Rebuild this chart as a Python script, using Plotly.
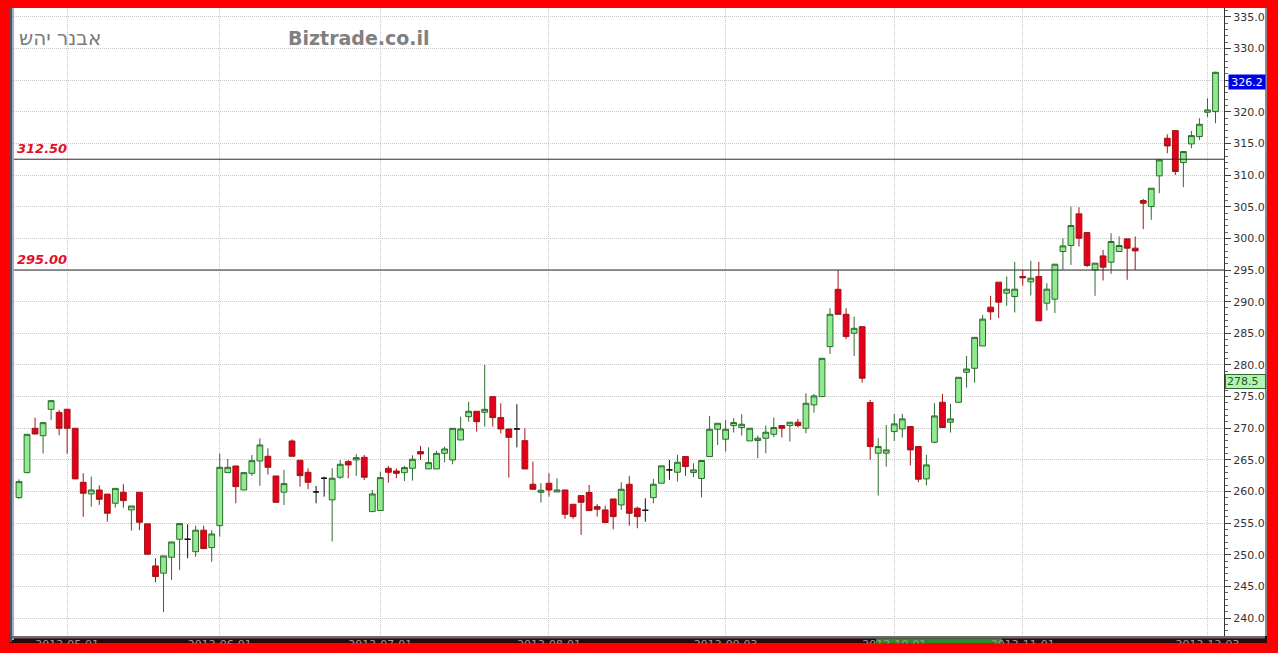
import plotly.graph_objects as go

# ---------------- data ----------------
open_ = [259.04, 262.99, 269.99, 268.83, 272.99, 272.5, 273.0, 270.0, 261.46, 259.62,
         260.25, 259.6, 258.15, 259.88, 257.1, 259.88, 254.9, 248.25, 247.1, 249.62,
         252.46, 252.46, 250.5, 253.9, 251.15, 254.62, 262.99, 264.04, 260.25, 262.88,
         264.83, 265.57, 262.46, 259.9, 267.99, 264.94, 263.04, 259.94, 262.1, 258.68,
         262.26, 264.73, 264.99, 265.41, 256.83, 257.0, 263.67, 263.25, 262.99, 263.67,
         266.31, 263.57, 263.57, 266.04, 264.99, 268.15, 271.83, 272.68, 272.52, 274.99,
         271.68, 269.89, 269.89, 268.04, 261.15, 259.89, 261.31, 259.94, 260.25, 257.99,
         259.36, 259.84, 257.62, 257.1, 258.83, 257.89, 261.15, 257.36, 257.04, 259.04,
         261.32, 263.42, 263.05, 265.53, 263.0, 262.06, 265.53, 269.84, 268.27, 270.42,
         270.11, 268.0, 268.06, 268.42, 269.05, 270.42, 270.42, 270.95, 270.0, 273.69,
         275.0, 282.9, 291.95, 288.0, 285.0, 286.05, 274.06, 266.06, 266.06, 269.47,
         269.9, 270.27, 267.11, 262.0, 267.79, 274.1, 270.95, 274.1, 278.84, 279.47,
         283.0, 289.13, 293.08, 291.34, 290.81, 293.97, 293.13, 293.97, 289.76, 290.39,
         297.92, 298.87, 303.87, 300.92, 295.02, 297.23, 296.23, 297.92, 299.92, 298.45,
         305.97, 305.02, 309.87, 315.81, 317.02, 311.97, 314.92, 316.08, 319.92, 320.02]
high = [261.94, 269.1, 271.67, 271.04, 274.46, 272.9, 273.0, 270.0, 262.9, 262.36,
        261.0, 259.6, 260.5, 261.15, 257.72, 259.88, 254.9, 249.46, 249.83, 252.04,
        254.94, 254.83, 254.6, 254.6, 253.9, 266.0, 265.15, 264.04, 262.99, 265.78,
        268.4, 266.83, 262.46, 263.41, 268.25, 264.94, 263.67, 260.88, 262.36, 263.68,
        264.99, 264.99, 265.9, 265.78, 260.25, 263.15, 264.04, 263.67, 264.04, 265.73,
        267.2, 266.99, 266.47, 267.1, 269.99, 271.83, 274.2, 272.68, 279.99, 274.99,
        273.94, 269.89, 273.8, 269.99, 264.73, 261.31, 262.88, 262.1, 260.25, 257.99,
        259.36, 261.04, 258.04, 257.78, 258.83, 261.47, 262.47, 257.62, 258.94, 261.99,
        264.06, 265.0, 265.8, 265.53, 264.47, 264.9, 271.95, 270.79, 271.32, 271.58,
        272.21, 270.0, 268.84, 270.42, 271.69, 270.42, 270.95, 271.48, 275.53, 275.42,
        281.05, 288.95, 295.0, 288.95, 287.63, 286.05, 274.48, 268.42, 270.53, 272.27,
        272.27, 270.27, 267.11, 265.79, 273.95, 275.42, 273.84, 278.05, 281.42, 284.36,
        287.9, 290.92, 293.08, 293.97, 296.29, 295.02, 296.45, 296.29, 292.92, 295.92,
        300.03, 305.02, 304.92, 300.92, 296.08, 298.18, 300.81, 300.29, 299.92, 300.29,
        306.23, 307.92, 312.39, 316.44, 317.02, 313.71, 316.97, 318.97, 322.13, 326.34]
low = [258.83, 262.9, 269.05, 266.04, 271.3, 268.9, 266.0, 262.0, 256.0, 257.6,
       257.9, 255.25, 257.46, 257.46, 253.83, 253.9, 250.1, 245.67, 240.94, 246.04,
       247.62, 249.46, 249.7, 250.99, 248.9, 252.9, 262.99, 258.15, 260.25, 262.46,
       260.9, 262.7, 258.3, 257.88, 265.57, 260.78, 260.36, 258.15, 259.2, 252.1,
       262.0, 262.1, 262.47, 261.83, 256.83, 257.0, 261.41, 262.1, 261.67, 261.73,
       264.99, 263.57, 263.57, 264.62, 264.31, 268.15, 271.04, 269.47, 270.26, 270.26,
       269.2, 262.2, 266.99, 263.57, 260.36, 258.25, 259.2, 259.94, 255.7, 255.68,
       253.15, 256.99, 256.04, 255.1, 254.04, 257.1, 254.62, 254.2, 255.25, 258.15,
       261.32, 261.85, 261.58, 262.48, 262.27, 259.1, 265.53, 267.37, 266.32, 269.32,
       268.84, 268.0, 265.27, 266.06, 268.6, 268.53, 267.9, 270.16, 269.21, 272.47,
       275.0, 281.74, 288.0, 284.06, 281.42, 277.21, 265.0, 259.37, 263.95, 268.0,
       268.53, 264.11, 261.48, 260.95, 267.63, 270.11, 269.32, 274.1, 276.42, 277.2,
       283.0, 287.13, 287.39, 289.34, 288.29, 292.55, 290.97, 286.97, 288.6, 288.18,
       295.02, 295.81, 298.71, 295.45, 290.92, 293.34, 294.39, 297.92, 293.45, 295.02,
       301.45, 302.92, 307.13, 313.44, 310.02, 308.08, 314.23, 315.55, 319.13, 318.18]
close = [261.57, 269.04, 269.09, 270.88, 274.36, 270.0, 270.0, 262.0, 259.73, 260.25,
         258.78, 256.57, 260.5, 258.57, 257.72, 255.15, 250.1, 246.57, 249.83, 252.04,
         254.94, 252.46, 253.9, 250.99, 253.3, 263.83, 263.83, 260.78, 262.99, 264.88,
         267.36, 263.83, 258.3, 261.25, 265.57, 262.52, 261.46, 259.94, 262.1, 262.1,
         264.31, 264.2, 265.36, 262.26, 259.62, 262.2, 263.04, 262.88, 263.78, 265.1,
         265.94, 264.57, 266.04, 266.73, 269.99, 269.89, 272.68, 271.04, 272.99, 271.68,
         269.89, 268.57, 269.89, 263.57, 260.36, 260.2, 260.25, 260.25, 256.41, 256.04,
         258.31, 256.99, 257.2, 255.1, 256.04, 260.36, 256.57, 256.04, 257.04, 261.15,
         264.06, 263.42, 264.63, 263.95, 263.42, 264.9, 269.84, 270.79, 269.84, 270.9,
         270.63, 270.0, 268.42, 269.37, 270.11, 270.0, 270.95, 270.42, 273.95, 275.11,
         281.05, 288.0, 288.0, 284.48, 285.79, 277.9, 267.11, 267.11, 266.58, 270.69,
         271.48, 266.58, 261.95, 264.21, 271.95, 270.11, 271.48, 278.05, 279.36, 284.36,
         287.24, 288.39, 289.92, 291.97, 291.97, 293.76, 293.71, 286.97, 291.97, 295.92,
         298.81, 302.02, 300.03, 295.71, 296.08, 295.45, 299.5, 298.87, 298.45, 298.02,
         305.55, 307.92, 312.39, 314.6, 310.55, 313.71, 316.23, 318.02, 320.29, 326.23]

month_idx = [6, 25, 45, 66, 88, 109, 125, 148]
month_labels = ["2012-05-01", "2012-06-01", "2012-07-01", "2012-08-01",
                "2012-09-03", "2012-10-01", "2012-11-01", "2012-12-03"]
levels = [312.5, 295.0]
level_labels = ["312.50", "295.00"]
last_price = 326.2
ma_price = 278.5
title_he = "אבנר יהש"
title_site = "Biztrade.co.il"

# ---------------- layout geometry ----------------
W, H = 1278, 653
ML, MR, MT, MB = 14, 54, 8, 17
PW = W - ML - MR
PH = H - MT - MB


def px_x(p):
    return (p - ML) / PW


def px_y(p):
    return (H - MB - p) / PH


idx = list(range(len(open_)))
doji = [abs(o - c) < 0.1 for o, c in zip(open_, close)]


def pick(arr, keep):
    return [v for v, k in zip(arr, keep) if k]


normal = [not d for d in doji]

fig = go.Figure()
fig.add_trace(go.Candlestick(
    x=pick(idx, normal), open=pick(open_, normal), high=pick(high, normal),
    low=pick(low, normal), close=pick(close, normal),
    increasing=dict(line=dict(color="#2f6b2f", width=1), fillcolor="#8eec8e"),
    decreasing=dict(line=dict(color="#a01515", width=1), fillcolor="#e4001a"),
    whiskerwidth=0, showlegend=False, name="price"))
fig.add_trace(go.Candlestick(
    x=pick(idx, doji), open=pick(open_, doji), high=pick(high, doji),
    low=pick(low, doji), close=pick(close, doji),
    increasing=dict(line=dict(color="#111111", width=1), fillcolor="#111111"),
    decreasing=dict(line=dict(color="#111111", width=1), fillcolor="#111111"),
    whiskerwidth=0, showlegend=False, name="doji"))

shapes = []
# white chart frame incl. right axis area
shapes.append(dict(type="rect", xref="paper", yref="paper", layer="below",
                   x0=px_x(12), x1=px_x(1266), y0=px_y(8), y1=px_y(638),
                   fillcolor="white", line=dict(width=0)))
# left frame strips
shapes.append(dict(type="rect", xref="paper", yref="paper", layer="above",
                   x0=px_x(9.5), x1=px_x(12), y0=px_y(8), y1=px_y(642),
                   fillcolor="#4a5560", line=dict(width=0)))
shapes.append(dict(type="rect", xref="paper", yref="paper", layer="above",
                   x0=px_x(12), x1=px_x(14), y0=px_y(8), y1=px_y(640),
                   fillcolor="#a4a8cc", line=dict(width=0)))
# right frame line
shapes.append(dict(type="rect", xref="paper", yref="paper", layer="below",
                   x0=px_x(1265), x1=px_x(1267), y0=px_y(8), y1=px_y(642),
                   fillcolor="#8a8a8a", line=dict(width=0)))
# bottom band
shapes.append(dict(type="rect", xref="paper", yref="paper", layer="below",
                   x0=px_x(9.5), x1=px_x(1267), y0=px_y(636), y1=px_y(643),
                   fillcolor="#2a0808", line=dict(width=0)))
shapes.append(dict(type="rect", xref="paper", yref="paper", layer="below",
                   x0=px_x(876), x1=px_x(1002), y0=px_y(638.5), y1=px_y(643),
                   fillcolor="#2c8a2c", line=dict(width=0)))
shapes.append(dict(type="rect", xref="paper", yref="paper", layer="above",
                   x0=px_x(12), x1=px_x(1265), y0=px_y(636), y1=px_y(638.5),
                   fillcolor="#6a6a6a", line=dict(width=0)))
# red bottom cover (clips axis labels)
shapes.append(dict(type="rect", xref="paper", yref="paper", layer="above",
                   x0=px_x(0), x1=px_x(W), y0=px_y(643.5), y1=px_y(H),
                   fillcolor="#ff0000", line=dict(width=0)))
# level lines
for lv in levels:
    shapes.append(dict(type="line", xref="paper", yref="y", layer="above",
                       x0=0, x1=1, y0=lv, y1=lv,
                       line=dict(color="#2a2a2a", width=1)))

annotations = []
for lv, lab in zip(levels, level_labels):
    annotations.append(dict(xref="paper", yref="y", x=px_x(15), y=lv,
                            xanchor="left", yanchor="bottom", yshift=1,
                            text=lab, showarrow=False,
                            font=dict(family="DejaVu Sans", size=13, color="#e3102a",
                                      weight="bold", style="italic")))
annotations.append(dict(xref="paper", yref="paper", x=px_x(17), y=px_y(38),
                        xanchor="left", yanchor="middle", text=title_he,
                        showarrow=False,
                        font=dict(family="DejaVu Sans", size=20, color="#7a7a7a")))
annotations.append(dict(xref="paper", yref="paper", x=px_x(286), y=px_y(38),
                        xanchor="left", yanchor="middle", text=title_site,
                        showarrow=False,
                        font=dict(family="DejaVu Sans", size=19, color="#808080",
                                  weight="bold")))
annotations.append(dict(xref="paper", yref="y", x=px_x(1228), y=last_price,
                        xanchor="left", yanchor="top", yshift=-1,
                        text=f"{last_price:.1f}",
                        showarrow=False, bgcolor="#0000e6", borderpad=1, width=34,
                        height=12, align="center",
                        font=dict(family="DejaVu Sans", size=11, color="white")))
annotations.append(dict(xref="paper", yref="y", x=px_x(1224.5), y=ma_price,
                        xanchor="left", yanchor="top", yshift=0,
                        text=f"{ma_price:.1f}",
                        showarrow=False, bgcolor="#b4f2b4", bordercolor="#2e6b2e",
                        borderwidth=1, borderpad=1, width=37, height=11, align="left",
                        font=dict(family="DejaVu Sans", size=11, color="#1e5a1e")))

fig.update_layout(
    width=W, height=H,
    margin=dict(l=ML, r=MR, t=MT, b=MB, pad=0),
    paper_bgcolor="#ff0000", plot_bgcolor="white",
    boxgap=0.28, boxgroupgap=0,
    shapes=shapes, annotations=annotations,
    showlegend=False,
    xaxis=dict(range=[-0.62, 150.06], rangeslider=dict(visible=False),
               tickvals=month_idx, ticktext=month_labels,
               showgrid=True, gridcolor="#c8c8c8", griddash="1px,1px", gridwidth=1,
               ticks="", zeroline=False, showline=False, automargin=False,
               tickfont=dict(family="DejaVu Sans", size=11, color="#9a9a9a")),
    yaxis=dict(range=[237.18, 336.39], side="right", dtick=5, tick0=0,
               tickformat=".1f", showgrid=True, gridcolor="#c8c8c8",
               griddash="1px,1px", gridwidth=1, ticks="outside", ticklen=6,
               tickcolor="#444", showline=True, linecolor="#333", linewidth=1,
               zeroline=False, automargin=False,
               minor=dict(dtick=1, ticks="outside", ticklen=3, tickcolor="#666",
                          showgrid=False),
               tickfont=dict(family="DejaVu Sans", size=11, color="#333")),
)

fig.write_html(
    "out.html",
    config={"displayModeBar": False},
    post_script="document.body.style.margin='0';document.body.style.padding='0';"
                "document.documentElement.style.background='#ff0000';",
)
